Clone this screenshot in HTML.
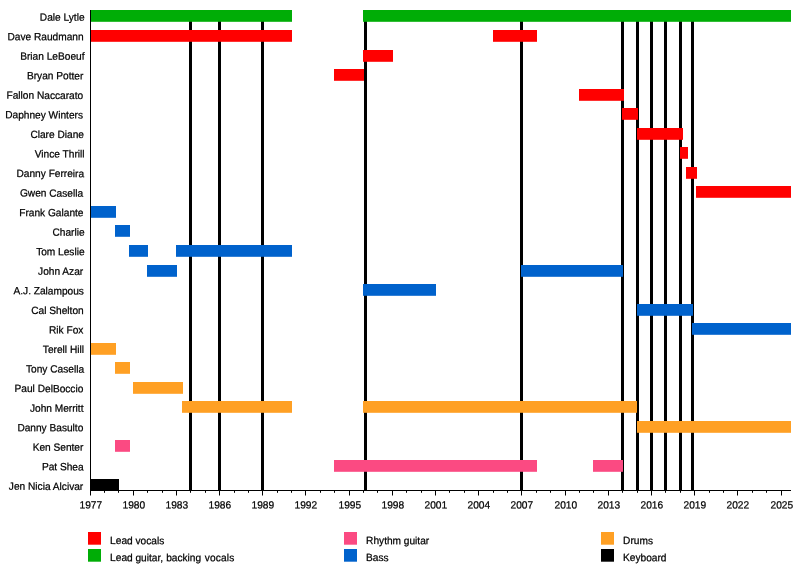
<!DOCTYPE html>
<html><head><meta charset="utf-8"><title>Timeline</title>
<style>
html,body{margin:0;padding:0;background:#fff;}
body{width:800px;height:570px;overflow:hidden;}
svg{display:block;}
text{font-family:"Liberation Sans",Arial,Helvetica,sans-serif;font-size:10.5px;fill:#000;stroke:#000;stroke-width:0.24px;}
</style></head><body>
<svg width="800" height="570" viewBox="0 0 800 570">
<rect width="800" height="570" fill="#fff"/>
<rect x="189" y="10" width="3" height="480.5" fill="#000"/>
<rect x="218" y="10" width="3" height="480.5" fill="#000"/>
<rect x="261" y="10" width="3" height="480.5" fill="#000"/>
<rect x="364" y="10" width="3" height="480.5" fill="#000"/>
<rect x="520" y="10" width="3" height="480.5" fill="#000"/>
<rect x="621" y="10" width="3" height="480.5" fill="#000"/>
<rect x="636" y="10" width="3" height="480.5" fill="#000"/>
<rect x="650" y="10" width="3" height="480.5" fill="#000"/>
<rect x="664" y="10" width="3" height="480.5" fill="#000"/>
<rect x="679" y="10" width="3" height="480.5" fill="#000"/>
<rect x="691" y="10" width="3" height="480.5" fill="#000"/>
<rect x="90" y="10" width="202" height="11.8" fill="#00ad06"/>
<rect x="363" y="10" width="428" height="11.8" fill="#00ad06"/>
<rect x="90" y="30" width="202" height="11.8" fill="#ff0000"/>
<rect x="493" y="30" width="44" height="11.8" fill="#ff0000"/>
<rect x="363" y="50" width="30" height="11.8" fill="#ff0000"/>
<rect x="334" y="69" width="30" height="11.8" fill="#ff0000"/>
<rect x="579" y="89" width="45" height="11.8" fill="#ff0000"/>
<rect x="622" y="108" width="16" height="11.8" fill="#ff0000"/>
<rect x="637" y="128" width="46" height="11.8" fill="#ff0000"/>
<rect x="680" y="147" width="8" height="11.8" fill="#ff0000"/>
<rect x="686" y="167" width="11" height="11.8" fill="#ff0000"/>
<rect x="696" y="186" width="95" height="11.8" fill="#ff0000"/>
<rect x="90" y="206" width="26" height="11.8" fill="#0062cc"/>
<rect x="115" y="225" width="15" height="11.8" fill="#0062cc"/>
<rect x="129" y="245" width="19" height="11.8" fill="#0062cc"/>
<rect x="176" y="245" width="116" height="11.8" fill="#0062cc"/>
<rect x="147" y="265" width="30" height="11.8" fill="#0062cc"/>
<rect x="521" y="265" width="102" height="11.8" fill="#0062cc"/>
<rect x="363" y="284" width="73" height="11.8" fill="#0062cc"/>
<rect x="637" y="304" width="56" height="11.8" fill="#0062cc"/>
<rect x="692" y="323" width="99" height="11.8" fill="#0062cc"/>
<rect x="90" y="343" width="26" height="11.8" fill="#ffa024"/>
<rect x="115" y="362" width="15" height="11.8" fill="#ffa024"/>
<rect x="133" y="382" width="50" height="11.8" fill="#ffa024"/>
<rect x="182" y="401" width="110" height="11.8" fill="#ffa024"/>
<rect x="363" y="401" width="274" height="11.8" fill="#ffa024"/>
<rect x="637" y="421" width="154" height="11.8" fill="#ffa024"/>
<rect x="115" y="440" width="15" height="11.8" fill="#fb4a82"/>
<rect x="334" y="460" width="203" height="11.8" fill="#fb4a82"/>
<rect x="593" y="460" width="30" height="11.8" fill="#fb4a82"/>
<rect x="90" y="479" width="29" height="11.8" fill="#000000"/>
<rect x="90" y="10" width="1" height="481" fill="#000"/>
<rect x="90" y="490" width="701" height="1" fill="#000"/>
<rect x="90" y="490" width="1" height="5.5" fill="#000"/>
<text transform="translate(90.80,508.6) scale(0.967,1) rotate(0.1)" text-anchor="middle">1977</text>
<rect x="104" y="490" width="1" height="2.8" fill="#000"/>
<rect x="118" y="490" width="1" height="2.8" fill="#000"/>
<rect x="133" y="490" width="1" height="5.5" fill="#000"/>
<text transform="translate(133.80,508.6) scale(0.967,1) rotate(0.1)" text-anchor="middle">1980</text>
<rect x="147" y="490" width="1" height="2.8" fill="#000"/>
<rect x="162" y="490" width="1" height="2.8" fill="#000"/>
<rect x="176" y="490" width="1" height="5.5" fill="#000"/>
<text transform="translate(176.80,508.6) scale(0.967,1) rotate(0.1)" text-anchor="middle">1983</text>
<rect x="190" y="490" width="1" height="2.8" fill="#000"/>
<rect x="205" y="490" width="1" height="2.8" fill="#000"/>
<rect x="219" y="490" width="1" height="5.5" fill="#000"/>
<text transform="translate(219.80,508.6) scale(0.967,1) rotate(0.1)" text-anchor="middle">1986</text>
<rect x="234" y="490" width="1" height="2.8" fill="#000"/>
<rect x="248" y="490" width="1" height="2.8" fill="#000"/>
<rect x="262" y="490" width="1" height="5.5" fill="#000"/>
<text transform="translate(262.80,508.6) scale(0.967,1) rotate(0.1)" text-anchor="middle">1989</text>
<rect x="277" y="490" width="1" height="2.8" fill="#000"/>
<rect x="291" y="490" width="1" height="2.8" fill="#000"/>
<rect x="305" y="490" width="1" height="5.5" fill="#000"/>
<text transform="translate(305.80,508.6) scale(0.967,1) rotate(0.1)" text-anchor="middle">1992</text>
<rect x="320" y="490" width="1" height="2.8" fill="#000"/>
<rect x="334" y="490" width="1" height="2.8" fill="#000"/>
<rect x="349" y="490" width="1" height="5.5" fill="#000"/>
<text transform="translate(349.80,508.6) scale(0.967,1) rotate(0.1)" text-anchor="middle">1995</text>
<rect x="363" y="490" width="1" height="2.8" fill="#000"/>
<rect x="377" y="490" width="1" height="2.8" fill="#000"/>
<rect x="392" y="490" width="1" height="5.5" fill="#000"/>
<text transform="translate(392.80,508.6) scale(0.967,1) rotate(0.1)" text-anchor="middle">1998</text>
<rect x="406" y="490" width="1" height="2.8" fill="#000"/>
<rect x="421" y="490" width="1" height="2.8" fill="#000"/>
<rect x="435" y="490" width="1" height="5.5" fill="#000"/>
<text transform="translate(435.80,508.6) scale(0.967,1) rotate(0.1)" text-anchor="middle">2001</text>
<rect x="449" y="490" width="1" height="2.8" fill="#000"/>
<rect x="464" y="490" width="1" height="2.8" fill="#000"/>
<rect x="478" y="490" width="1" height="5.5" fill="#000"/>
<text transform="translate(478.80,508.6) scale(0.967,1) rotate(0.1)" text-anchor="middle">2004</text>
<rect x="493" y="490" width="1" height="2.8" fill="#000"/>
<rect x="507" y="490" width="1" height="2.8" fill="#000"/>
<rect x="521" y="490" width="1" height="5.5" fill="#000"/>
<text transform="translate(521.80,508.6) scale(0.967,1) rotate(0.1)" text-anchor="middle">2007</text>
<rect x="536" y="490" width="1" height="2.8" fill="#000"/>
<rect x="550" y="490" width="1" height="2.8" fill="#000"/>
<rect x="565" y="490" width="1" height="5.5" fill="#000"/>
<text transform="translate(565.80,508.6) scale(0.967,1) rotate(0.1)" text-anchor="middle">2010</text>
<rect x="579" y="490" width="1" height="2.8" fill="#000"/>
<rect x="593" y="490" width="1" height="2.8" fill="#000"/>
<rect x="608" y="490" width="1" height="5.5" fill="#000"/>
<text transform="translate(608.80,508.6) scale(0.967,1) rotate(0.1)" text-anchor="middle">2013</text>
<rect x="622" y="490" width="1" height="2.8" fill="#000"/>
<rect x="637" y="490" width="1" height="2.8" fill="#000"/>
<rect x="651" y="490" width="1" height="5.5" fill="#000"/>
<text transform="translate(651.80,508.6) scale(0.967,1) rotate(0.1)" text-anchor="middle">2016</text>
<rect x="665" y="490" width="1" height="2.8" fill="#000"/>
<rect x="680" y="490" width="1" height="2.8" fill="#000"/>
<rect x="694" y="490" width="1" height="5.5" fill="#000"/>
<text transform="translate(694.80,508.6) scale(0.967,1) rotate(0.1)" text-anchor="middle">2019</text>
<rect x="709" y="490" width="1" height="2.8" fill="#000"/>
<rect x="723" y="490" width="1" height="2.8" fill="#000"/>
<rect x="737" y="490" width="1" height="5.5" fill="#000"/>
<text transform="translate(737.80,508.6) scale(0.967,1) rotate(0.1)" text-anchor="middle">2022</text>
<rect x="752" y="490" width="1" height="2.8" fill="#000"/>
<rect x="766" y="490" width="1" height="2.8" fill="#000"/>
<rect x="781" y="490" width="1" height="5.5" fill="#000"/>
<text transform="translate(781.80,508.6) scale(0.967,1) rotate(0.1)" text-anchor="middle">2025</text>
<text transform="translate(84.58,20.75) scale(0.967,1) rotate(0.1)" text-anchor="end">Dale Lytle</text>
<text transform="translate(83.58,40.30) scale(0.967,1) rotate(0.1)" text-anchor="end">Dave Raudmann</text>
<text transform="translate(84.5,59.85) scale(0.967,1) rotate(0.1)" text-anchor="end">Brian LeBoeuf</text>
<text transform="translate(83.31,79.40) scale(0.967,1) rotate(0.1)" text-anchor="end">Bryan Potter</text>
<text transform="translate(83.14,98.95) scale(0.967,1) rotate(0.1)" text-anchor="end">Fallon Naccarato</text>
<text transform="translate(82.99,118.50) scale(0.967,1) rotate(0.1)" text-anchor="end">Daphney Winters</text>
<text transform="translate(83.91,138.05) scale(0.967,1) rotate(0.1)" text-anchor="end">Clare Diane</text>
<text transform="translate(84.56,157.60) scale(0.967,1) rotate(0.1)" text-anchor="end">Vince Thrill</text>
<text transform="translate(84.14,177.15) scale(0.967,1) rotate(0.1)" text-anchor="end">Danny Ferreira</text>
<text transform="translate(83.08,196.70) scale(0.967,1) rotate(0.1)" text-anchor="end">Gwen Casella</text>
<text transform="translate(83.5,216.25) scale(0.967,1) rotate(0.1)" text-anchor="end">Frank Galante</text>
<text transform="translate(84.54,235.80) scale(0.967,1) rotate(0.1)" text-anchor="end">Charlie</text>
<text transform="translate(84.59,255.35) scale(0.967,1) rotate(0.1)" text-anchor="end">Tom Leslie</text>
<text transform="translate(83.17,274.90) scale(0.967,1) rotate(0.1)" text-anchor="end">John Azar</text>
<text transform="translate(83.94,294.45) scale(0.967,1) rotate(0.1)" text-anchor="end">A.J. Zalampous</text>
<text transform="translate(83.7,314.00) scale(0.967,1) rotate(0.1)" text-anchor="end">Cal Shelton</text>
<text transform="translate(83.38,333.55) scale(0.967,1) rotate(0.1)" text-anchor="end">Rik Fox</text>
<text transform="translate(84.01,353.10) scale(0.967,1) rotate(0.1)" text-anchor="end">Terell Hill</text>
<text transform="translate(84.06,372.65) scale(0.967,1) rotate(0.1)" text-anchor="end">Tony Casella</text>
<text transform="translate(83.33,392.20) scale(0.967,1) rotate(0.1)" text-anchor="end">Paul DelBoccio</text>
<text transform="translate(83.51,411.75) scale(0.967,1) rotate(0.1)" text-anchor="end">John Merritt</text>
<text transform="translate(83.33,431.30) scale(0.967,1) rotate(0.1)" text-anchor="end">Danny Basulto</text>
<text transform="translate(83.38,450.85) scale(0.967,1) rotate(0.1)" text-anchor="end">Ken Senter</text>
<text transform="translate(83.64,470.40) scale(0.967,1) rotate(0.1)" text-anchor="end">Pat Shea</text>
<text transform="translate(83.25,489.95) scale(0.967,1) rotate(0.1)" text-anchor="end">Jen Nicia Alcivar</text>
<rect x="88" y="532" width="13" height="12.7" fill="#ff0000"/>
<text transform="translate(110.1,544.1) scale(0.967,1) rotate(0.1)">Lead vocals</text>
<rect x="88" y="549" width="13" height="12.7" fill="#00ad06"/>
<text transform="translate(110.1,561.1) scale(0.967,1) rotate(0.1)">Lead guitar, <tspan x="58.01">backing</tspan> <tspan x="97.83" textLength="30.61" lengthAdjust="spacing">vocals</tspan></text>
<rect x="344" y="532" width="13" height="12.7" fill="#fb4a82"/>
<text transform="translate(366.1,544.1) scale(0.967,1) rotate(0.1)">Rhythm guitar</text>
<rect x="344" y="549" width="13" height="12.7" fill="#0062cc"/>
<text transform="translate(366.1,561.1) scale(0.967,1) rotate(0.1)">Bass</text>
<rect x="601" y="532" width="13" height="12.7" fill="#ffa024"/>
<text transform="translate(623.1,544.1) scale(0.967,1) rotate(0.1)">Drums</text>
<rect x="601" y="549" width="13" height="12.7" fill="#000000"/>
<text transform="translate(623.1,561.1) scale(0.967,1) rotate(0.1)">Keyboard</text>
</svg>
</body></html>
